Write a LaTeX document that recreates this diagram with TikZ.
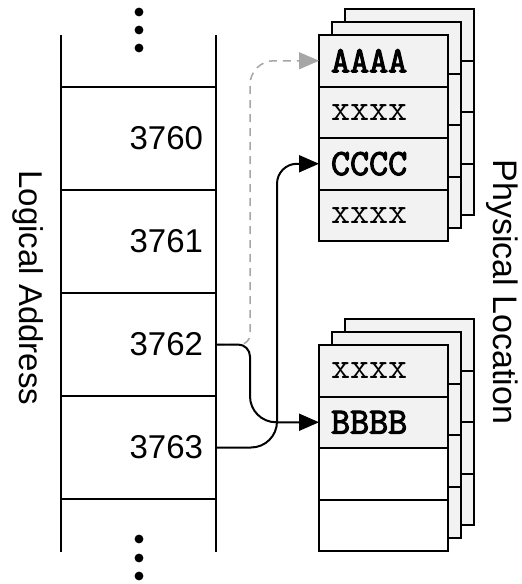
\documentclass[tikz,border=0pt]{standalone}
\usepackage{fontspec}
\setmainfont{Liberation Sans}
\setmonofont{Latin Modern Mono}[AutoFakeBold=3]
\usepackage{tikz}
\usetikzlibrary{arrows.meta}
\definecolor{cellgray}{RGB}{242,242,242}
\definecolor{arrowgray}{RGB}{166,166,166}
\tikzset{
  addrcell/.style={rectangle, draw=black, line width=1pt, outer sep=0pt,
    minimum width=77.5pt, minimum height=51.5pt, text width=64.5pt,
    inner xsep=6.5pt, align=right, font=\fontsize{16.5}{20}\selectfont},
  memcell/.style={rectangle, draw=black, fill=cellgray, line width=1pt, outer sep=0pt,
    minimum width=64.5pt, minimum height=25.75pt, text width=52.5pt,
    inner xsep=6pt, align=left, font=\fontsize{18.5}{20}\selectfont\ttfamily},
  emptycell/.style={memcell, fill=white},
  layer/.style={draw=black, fill=cellgray, line width=1pt},
  sidelbl/.style={rotate=-90, font=\fontsize{16.5}{20}\selectfont},
  maparrow/.style={-{Triangle[length=10pt,width=8.5pt]}, line width=1pt, color=black},
  oldarrow/.style={-{Triangle[length=10pt,width=8.5pt]}, line width=0.75pt,
    color=arrowgray, dash pattern=on 4pt off 3pt}
}

\begin{document}
\begin{tikzpicture}[x=0.5pt, y=-0.5pt]
\useasboundingbox (0,0) rectangle (522,584);
% logical side
\node[addrcell] (r3760) at (138.5,138.5) {3760};
\node[addrcell] (r3761) at (138.5,241.5) {3761};
\node[addrcell] (r3762) at (138.5,344.5) {3762};
\node[addrcell] (r3763) at (138.5,447.5) {3763};
\draw[line width=1pt] (r3760.north west) -- ++(0,-52);
\draw[line width=1pt] (r3760.north east) -- ++(0,-52);
\draw[line width=1pt] (r3763.south west) -- ++(0,53);
\draw[line width=1pt] (r3763.south east) -- ++(0,53);
\foreach \y in {12,30,48,539,558,576}
  \fill (139,\y) circle (2.2pt);
\node[sidelbl] (logaddr) at (28,288) {Logical Address};
% physical side, back layers
\foreach \d in {26,13} {
  \draw[layer] (319+\d,35-\d) rectangle ++(129,206);
  \foreach \k in {1,2,3}
    \draw[line width=1pt] (319+\d,35-\d+51.5*\k) -- ++(129,0);
  \draw[layer] (319+\d,345-\d) rectangle ++(129,206);
  \foreach \k in {1,2,3}
    \draw[line width=1pt] (319+\d,345-\d+51.5*\k) -- ++(129,0);
}
% physical side, front
\node[memcell] (pA) at (383.5,60.75) {\textbf{AAAA}};
\node[memcell] (pX1) at (383.5,112.25) {xxxx};
\node[memcell] (pC) at (383.5,163.75) {\textbf{CCCC}};
\node[memcell] (pX2) at (383.5,215.25) {xxxx};
\node[memcell] (pX3) at (383.5,370.75) {xxxx};
\node[memcell] (pB) at (383.5,422.25) {\textbf{BBBB}};
\node[emptycell] (pE1) at (383.5,473.75) {};
\node[emptycell] (pE2) at (383.5,525.25) {};
\node[sidelbl, font=\fontsize{17}{20}\selectfont] (physloc) at (502,292) {Physical Location};
% mappings
\draw[oldarrow, rounded corners=5pt] (r3762.east) -- ++(34,0)
  [rounded corners=12pt] -- ++(0,-283.75) -- (pA.west);
\draw[maparrow, rounded corners=6pt] (r3762.east) -- ++(34,0)
  [rounded corners=13pt] -- ++(0,77.75) -- (pB.west);
\draw[maparrow, rounded corners=13pt] (r3763.east) -- ++(61,0)
  [rounded corners=10pt] -- ++(0,-283.75) -- (pC.west);
\end{tikzpicture}
\end{document}
